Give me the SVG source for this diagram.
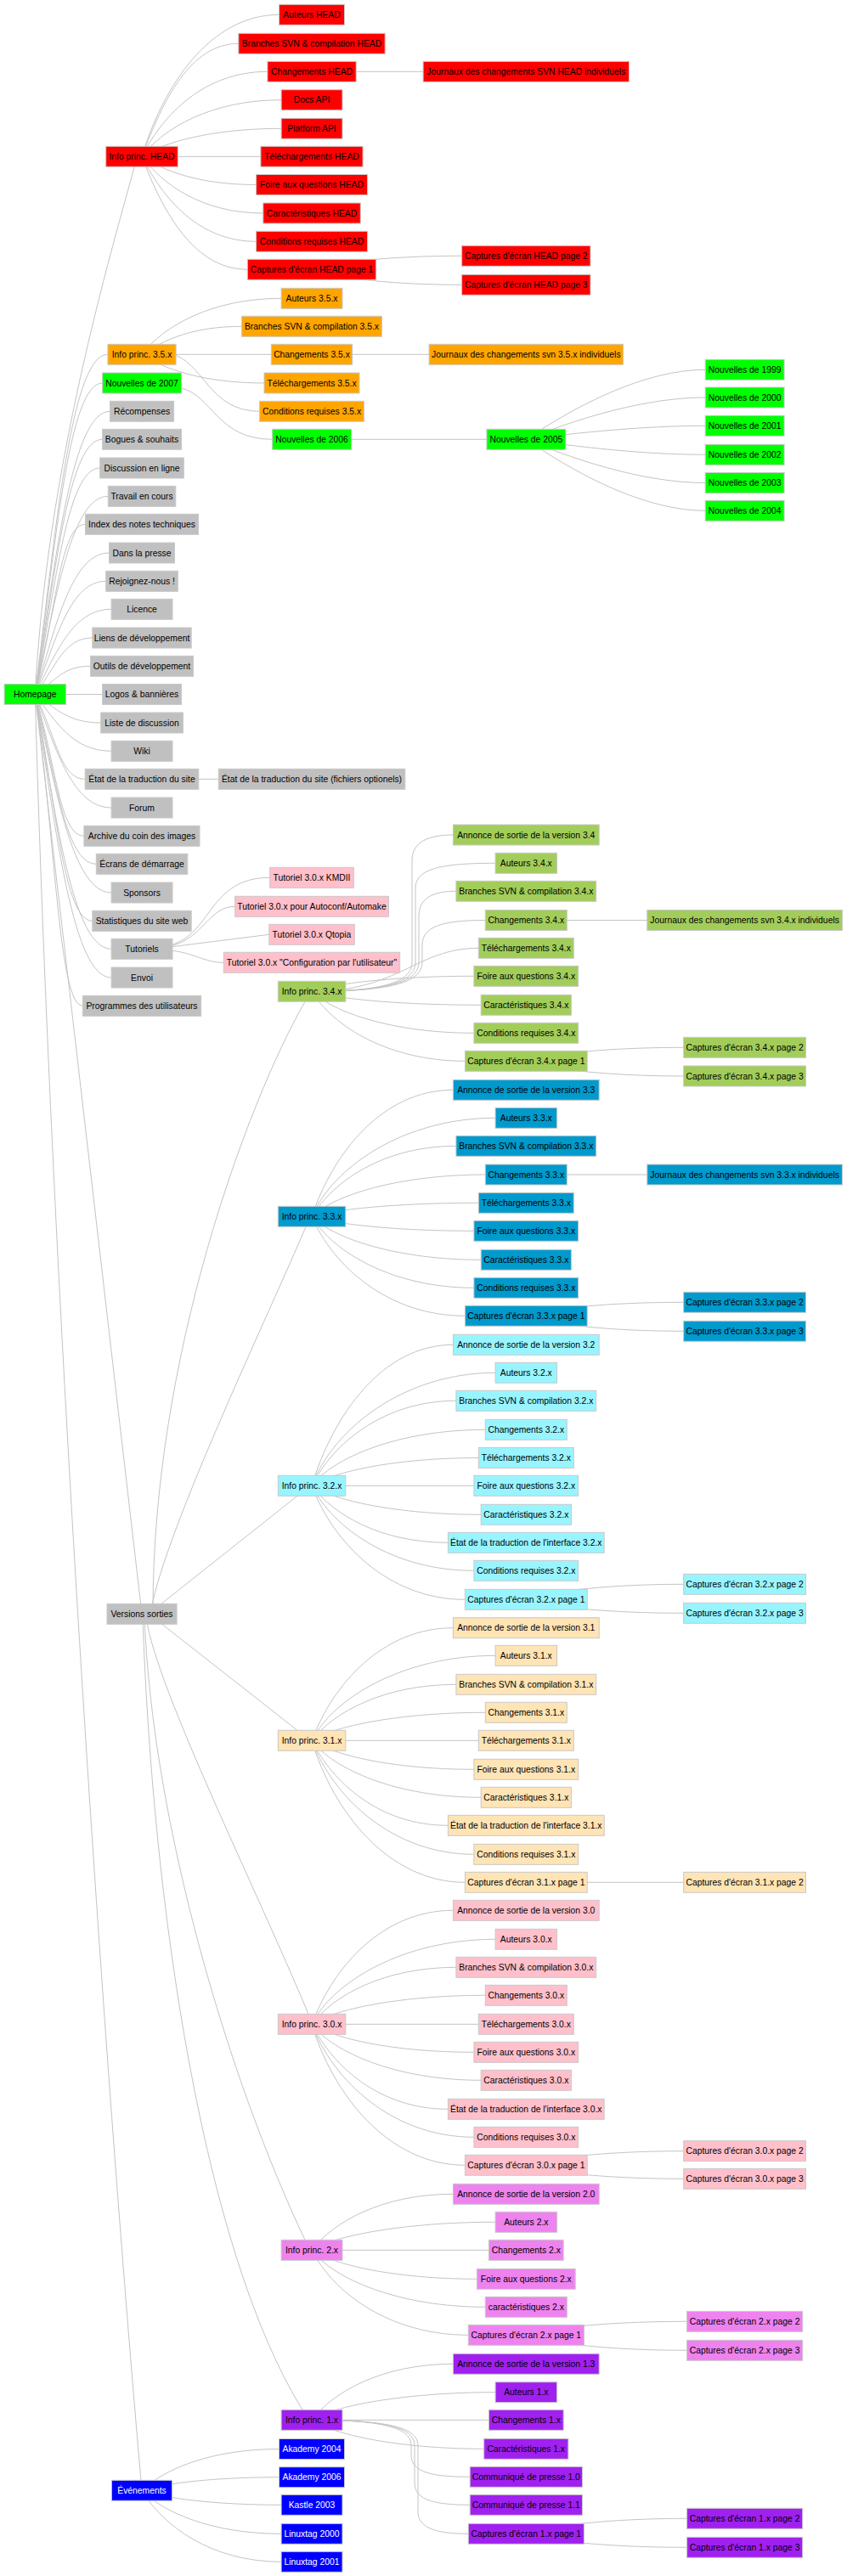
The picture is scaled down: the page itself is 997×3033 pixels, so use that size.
<svg xmlns="http://www.w3.org/2000/svg" width="997" height="3033" viewBox="0 0 997 3033">
<style>
.e path{fill:none;stroke:#c4c4c4;stroke-width:1}
rect.n{stroke:#c8c8c8;stroke-width:1;height:24px}
text{font-family:"Liberation Sans",Arial,sans-serif;font-size:10.35px;text-anchor:middle;fill:#000}
.r rect{fill:#ff0000}.o rect{fill:#ffa500}.g rect{fill:#00ff00}.s rect{fill:#c0c0c0}.p rect{fill:#ffc0cb}
.v34 rect{fill:#a2cd5a}.v33 rect{fill:#009acd}.v32 rect{fill:#98f5ff}.v31 rect{fill:#ffe4b5}.v30 rect{fill:#ffc0cb}
.v2 rect{fill:#ee82ee}.v1 rect{fill:#a020f0}.b rect{fill:#0000ff}.b text{fill:#fff}
</style>
<rect width="997" height="3033" fill="#fff"/>
<g id="connectors" class="e">
<path d="M41.3,817.5C66.3,617.4 84.1,417.3 126.9,417.3"/>
<path d="M41.3,817.5C66.3,634.3 81,451 120.6,451"/>
<path d="M41.3,817.5C66.3,650.9 85.4,484.3 129.5,484.3"/>
<path d="M41.3,817.5C66.3,667.4 81,517.3 120.6,517.3"/>
<path d="M41.3,817.5C66.3,684.3 79.5,551 117.7,551"/>
<path d="M41.3,817.5C66.3,700.9 84.3,584.3 127.3,584.3"/>
<path d="M41.3,817.5C66.3,717.4 70.9,617.3 100.5,617.3"/>
<path d="M41.3,817.5C66.3,734.3 84.9,651 128.5,651"/>
<path d="M41.3,817.5C66.3,750.9 83,684.3 124.7,684.3"/>
<path d="M41.3,817.5C66.3,767.4 86.2,717.3 131.1,717.3"/>
<path d="M41.3,817.5C66.3,784.3 75.1,751 108.8,751"/>
<path d="M41.3,817.5C66.3,800.9 74,784.3 106.6,784.3"/>
<path d="M41.3,817.5L120.6,817.5"/>
<path d="M41.3,817.5C66.3,834.3 80,851 118.7,851"/>
<path d="M41.3,817.5C66.3,850.9 86.2,884.3 131.1,884.3"/>
<path d="M41.3,817.5C66.3,867.4 70.8,917.3 100.2,917.3"/>
<path d="M41.3,817.5C66.3,884.3 86.2,951 131.1,951"/>
<path d="M41.3,817.5C66.3,900.9 70.1,984.3 98.9,984.3"/>
<path d="M41.3,817.5C66.3,917.4 77.3,1017.3 113.3,1017.3"/>
<path d="M41.3,817.5C66.3,934.3 86.2,1051 131.1,1051"/>
<path d="M41.3,817.5C66.3,950.9 75.1,1084.3 108.8,1084.3"/>
<path d="M41.3,817.5C66.3,967.4 86.2,1117.3 131.1,1117.3"/>
<path d="M41.3,817.5C66.3,984.3 86.2,1151 131.1,1151"/>
<path d="M41.3,817.5C66.3,1000.9 69.4,1184.3 97.4,1184.3"/>
<path d="M41.3,817.5C55,550 130,300 160,190"/>
<path d="M41.3,817.5L167,1900.3"/>
<path d="M41.3,817.5C60,1500 120,2400 167,2932.3"/>
<path d="M167,184.3C192,100.8 247.8,17.3 328.5,17.3"/>
<path d="M167,184.3C192,117.8 223.9,51.3 280.8,51.3"/>
<path d="M167,184.3C192,134.3 241,84.3 314.9,84.3"/>
<path d="M167,184.3C192,151 249.1,117.7 331.1,117.7"/>
<path d="M167,184.3C192,167.8 249.1,151.3 331.1,151.3"/>
<path d="M167,184.3L306.9,184.3"/>
<path d="M167,184.3C192,200.9 234.3,217.5 301.5,217.5"/>
<path d="M167,184.3C192,217.7 238.4,251 309.8,251"/>
<path d="M167,184.3C192,234.3 234.3,284.3 301.5,284.3"/>
<path d="M167,184.3C192,250.8 229.2,317.3 291.3,317.3"/>
<path d="M367,84.3L498.1,84.3"/>
<path d="M367,317.3C392,309.3 455.3,301.3 543.6,301.3"/>
<path d="M367,317.3C392,326.3 455.3,335.3 543.6,335.3"/>
<path d="M167,417.3C192,384.3 249.1,351.3 331.1,351.3"/>
<path d="M167,417.3C192,400.8 225.8,384.3 284.6,384.3"/>
<path d="M167,417.3L319.3,417.3"/>
<path d="M167,417.3C192,434.2 239,451 311,451"/>
<path d="M200,416C240,425 245,484.3 305.6,484.3"/>
<path d="M367,417.3L505.1,417.3"/>
<path d="M213,457C250,465 255,517.3 320.6,517.3"/>
<path d="M367,517.3L572.9,517.3"/>
<path d="M619.3,517.3C680,476.3 760,435.3 830.2,435.3"/>
<path d="M619.3,517.3C680,492.7 760,468 830.2,468"/>
<path d="M619.3,517.3C680,509.3 760,501.3 830.2,501.3"/>
<path d="M619.3,517.3C680,526.3 760,535.3 830.2,535.3"/>
<path d="M619.3,517.3C680,542.9 760,568.5 830.2,568.5"/>
<path d="M619.3,517.3C680,559.3 760,601.3 830.2,601.3"/>
<path d="M167,917.3L257.3,917.3"/>
<path d="M200,1113C250,1100 245,1033.3 317.7,1033.3"/>
<path d="M200,1114C240,1105 245,1067.3 276.7,1067.3"/>
<path d="M200,1115L316.8,1100.3"/>
<path d="M200,1119C230,1122 240,1133.3 263.3,1133.3"/>
<path d="M180,1895C180,1600 290,1300 359,1179.3"/>
<path d="M178,1895C195,1800 320,1540 360,1444.3"/>
<path d="M184,1893L350,1761.3"/>
<path d="M184,1907L350,2037.3"/>
<path d="M172,1905C185,1990 300,2220 363,2371.3"/>
<path d="M170,1905C180,2150 270,2450 359,2637.3"/>
<path d="M168,1905C180,2250 240,2650 356,2837.3"/>
<path d="M367,1167.3C465,1167.3 485,1152 485,1132L485,1013C485,991 505,983 533.4,983"/>
<path d="M367,1167.3C469,1167.3 489,1152 489,1132L489,1046C489,1024 515,1016.3 583.1,1016.3"/>
<path d="M367,1167.3C473,1167.3 493,1152 493,1132L493,1079C493,1057 510,1049.3 536.9,1049.3"/>
<path d="M367,1167.3C477,1167.3 497,1152 497,1132L497,1113C497,1091 520,1083.5 571.3,1083.5"/>
<path d="M367,1167.3C470,1167.3 490,1116.3 563.3,1116.3"/>
<path d="M367,1167.3C392,1158.3 462.5,1149.3 557.9,1149.3"/>
<path d="M367,1167.3C392,1175.3 466.6,1183.3 566.2,1183.3"/>
<path d="M367,1167.3C392,1191.8 462.5,1216.3 557.9,1216.3"/>
<path d="M367,1167.3C392,1208.3 457.2,1249.3 547.4,1249.3"/>
<path d="M619.3,1083.5L761.8,1083.5"/>
<path d="M619.3,1249.3C644.3,1241.3 712,1233.3 804.7,1233.3"/>
<path d="M619.3,1249.3C644.3,1258.2 712,1267 804.7,1267"/>
<path d="M367,1432.3C392,1357.8 450.2,1283.3 533.4,1283.3"/>
<path d="M367,1432.3C392,1374.3 475.1,1316.3 583.1,1316.3"/>
<path d="M367,1432.3C392,1390.8 452,1349.3 536.9,1349.3"/>
<path d="M367,1432.3C392,1407.7 469.2,1383 571.3,1383"/>
<path d="M367,1432.3C392,1424.3 465.2,1416.3 563.3,1416.3"/>
<path d="M367,1432.3C392,1440.8 462.5,1449.3 557.9,1449.3"/>
<path d="M367,1432.3C392,1457.8 466.6,1483.3 566.2,1483.3"/>
<path d="M367,1432.3C392,1474.3 462.5,1516.3 557.9,1516.3"/>
<path d="M367,1432.3C392,1490.8 457.2,1549.3 547.4,1549.3"/>
<path d="M619.3,1383L761.8,1383"/>
<path d="M619.3,1549.3C644.3,1541.3 712,1533.3 804.7,1533.3"/>
<path d="M619.3,1549.3C644.3,1558.3 712,1567.3 804.7,1567.3"/>
<path d="M367,1749.3C392,1666.3 450.2,1583.3 533.4,1583.3"/>
<path d="M367,1749.3C392,1682.8 475.1,1616.3 583.1,1616.3"/>
<path d="M367,1749.3C392,1699.3 452,1649.3 536.9,1649.3"/>
<path d="M367,1749.3C392,1716.3 469.2,1683.3 571.3,1683.3"/>
<path d="M367,1749.3C392,1732.9 465.2,1716.5 563.3,1716.5"/>
<path d="M367,1749.3L557.9,1749.3"/>
<path d="M367,1749.3C392,1766.3 466.6,1783.3 566.2,1783.3"/>
<path d="M367,1749.3C392,1782.8 447.2,1816.3 527.4,1816.3"/>
<path d="M367,1749.3C392,1799.3 462.5,1849.3 557.9,1849.3"/>
<path d="M367,1749.3C392,1816.3 457.2,1883.3 547.4,1883.3"/>
<path d="M619.3,1883.3C644.3,1874.3 712,1865.3 804.7,1865.3"/>
<path d="M619.3,1883.3C644.3,1891.3 712,1899.3 804.7,1899.3"/>
<path d="M367,2049.3C392,1983 450.2,1916.7 533.4,1916.7"/>
<path d="M367,2049.3C392,1999.3 475.1,1949.3 583.1,1949.3"/>
<path d="M367,2049.3C392,2016.3 452,1983.3 536.9,1983.3"/>
<path d="M367,2049.3C392,2032.8 469.2,2016.3 571.3,2016.3"/>
<path d="M367,2049.3L563.3,2049.3"/>
<path d="M367,2049.3C392,2066.3 462.5,2083.3 557.9,2083.3"/>
<path d="M367,2049.3C392,2082.8 466.6,2116.3 566.2,2116.3"/>
<path d="M367,2049.3C392,2099.3 447.2,2149.3 527.4,2149.3"/>
<path d="M367,2049.3C392,2116.3 462.5,2183.3 557.9,2183.3"/>
<path d="M367,2049.3C392,2132.8 457.2,2216.3 547.4,2216.3"/>
<path d="M619.3,2216.3L804.7,2216.3"/>
<path d="M367,2383.3C392,2316.3 450.2,2249.3 533.4,2249.3"/>
<path d="M367,2383.3C392,2333.3 475.1,2283.3 583.1,2283.3"/>
<path d="M367,2383.3C392,2349.8 452,2316.3 536.9,2316.3"/>
<path d="M367,2383.3C392,2366.3 469.2,2349.3 571.3,2349.3"/>
<path d="M367,2383.3L563.3,2383.3"/>
<path d="M367,2383.3C392,2399.8 462.5,2416.3 557.9,2416.3"/>
<path d="M367,2383.3C392,2416.3 466.6,2449.3 566.2,2449.3"/>
<path d="M367,2383.3C392,2433.3 447.2,2483.3 527.4,2483.3"/>
<path d="M367,2383.3C392,2449.8 462.5,2516.3 557.9,2516.3"/>
<path d="M367,2383.3C392,2466.3 457.2,2549.3 547.4,2549.3"/>
<path d="M619.3,2549.3C644.3,2541 712,2532.7 804.7,2532.7"/>
<path d="M619.3,2549.3C644.3,2557.3 712,2565.3 804.7,2565.3"/>
<path d="M367,2649.3C392,2616.3 450.2,2583.3 533.4,2583.3"/>
<path d="M367,2649.3C392,2632.8 475.1,2616.3 583.1,2616.3"/>
<path d="M367,2649.3L575.4,2649.3"/>
<path d="M367,2649.3C392,2666.3 464.2,2683.3 561.4,2683.3"/>
<path d="M367,2649.3C392,2682.8 469.2,2716.3 571.3,2716.3"/>
<path d="M367,2649.3C392,2699.3 459.2,2749.3 551.3,2749.3"/>
<path d="M619.3,2749.3C644.3,2741.3 714,2733.3 808.6,2733.3"/>
<path d="M619.3,2749.3C644.3,2758.3 714,2767.3 808.6,2767.3"/>
<path d="M367,2849.3C392,2816.3 450.2,2783.3 533.4,2783.3"/>
<path d="M367,2849.3C392,2833 475.1,2816.7 583.1,2816.7"/>
<path d="M367,2849.3L575.4,2849.3"/>
<path d="M367,2849.3C392,2866.3 468.4,2883.3 569.7,2883.3"/>
<path d="M367,2849.3C464,2849.3 484,2862 484,2880L484,2890C484,2908 500,2916.3 553.2,2916.3"/>
<path d="M367,2849.3C468,2849.3 488,2862 488,2880L488,2923C488,2941 505,2949.3 553.2,2949.3"/>
<path d="M367,2849.3C472,2849.3 492,2862 492,2880L492,2957C492,2975 510,2983.3 551.3,2983.3"/>
<path d="M619.3,2983.3C644.3,2974.3 714,2965.3 808.6,2965.3"/>
<path d="M619.3,2983.3C644.3,2991.3 714,2999.3 808.6,2999.3"/>
<path d="M167,2932.3C192,2907.9 247.8,2883.5 328.5,2883.5"/>
<path d="M167,2932.3C192,2924.5 247.8,2916.7 328.5,2916.7"/>
<path d="M167,2932.3C192,2940.8 249.1,2949.3 331.1,2949.3"/>
<path d="M167,2932.3C192,2957.8 249.1,2983.3 331.1,2983.3"/>
<path d="M167,2932.3C192,2974.3 249.1,3016.3 331.1,3016.3"/>
</g>
<g id="nodes">
<g id="homepage" class="g"><rect class="n" x="5.1" y="805.5" width="72.5" height="24"/><text x="41.3" y="821.1">Homepage</text></g>
<g id="info-head" class="r"><rect class="n" x="124.7" y="172.3" width="84.6" height="24"/><text x="167" y="187.9">Info princ. HEAD</text></g>
<g id="info-35" class="o"><rect class="n" x="126.9" y="405.3" width="80.2" height="24"/><text x="167" y="420.9">Info princ. 3.5.x</text></g>
<g id="news-2007" class="g"><rect class="n" x="120.6" y="439" width="92.9" height="24"/><text x="167" y="454.6">Nouvelles de 2007</text></g>
<g id="awards" class="s"><rect class="n" x="129.5" y="472.3" width="75.1" height="24"/><text x="167" y="487.9">Récompenses</text></g>
<g id="bugs" class="s"><rect class="n" x="120.6" y="505.3" width="92.9" height="24"/><text x="167" y="520.9">Bogues &amp; souhaits</text></g>
<g id="chat" class="s"><rect class="n" x="117.7" y="539" width="98.6" height="24"/><text x="167" y="554.6">Discussion en ligne</text></g>
<g id="wip" class="s"><rect class="n" x="127.3" y="572.3" width="79.5" height="24"/><text x="167" y="587.9">Travail en cours</text></g>
<g id="technotes" class="s"><rect class="n" x="100.5" y="605.3" width="133" height="24"/><text x="167" y="620.9">Index des notes techniques</text></g>
<g id="press" class="s"><rect class="n" x="128.5" y="639" width="77" height="24"/><text x="167" y="654.6">Dans la presse</text></g>
<g id="join" class="s"><rect class="n" x="124.7" y="672.3" width="84.6" height="24"/><text x="167" y="687.9">Rejoignez-nous !</text></g>
<g id="licence" class="s"><rect class="n" x="131.1" y="705.3" width="71.9" height="24"/><text x="167" y="720.9">Licence</text></g>
<g id="devlinks" class="s"><rect class="n" x="108.8" y="739" width="116.4" height="24"/><text x="167" y="754.6">Liens de développement</text></g>
<g id="devtools" class="s"><rect class="n" x="106.6" y="772.3" width="120.9" height="24"/><text x="167" y="787.9">Outils de développement</text></g>
<g id="logos" class="s"><rect class="n" x="120.6" y="805.5" width="92.9" height="24"/><text x="167" y="821.1">Logos &amp; bannières</text></g>
<g id="mailinglist" class="s"><rect class="n" x="118.7" y="839" width="96.7" height="24"/><text x="167" y="854.6">Liste de discussion</text></g>
<g id="wiki" class="s"><rect class="n" x="131.1" y="872.3" width="71.9" height="24"/><text x="167" y="887.9">Wiki</text></g>
<g id="translation" class="s"><rect class="n" x="100.2" y="905.3" width="133.6" height="24"/><text x="167" y="920.9">État de la traduction du site</text></g>
<g id="forum" class="s"><rect class="n" x="131.1" y="939" width="71.9" height="24"/><text x="167" y="954.6">Forum</text></g>
<g id="artwork" class="s"><rect class="n" x="98.9" y="972.3" width="136.1" height="24"/><text x="167" y="987.9">Archive du coin des images</text></g>
<g id="splash" class="s"><rect class="n" x="113.3" y="1005.3" width="107.5" height="24"/><text x="167" y="1020.9">Écrans de démarrage</text></g>
<g id="sponsors" class="s"><rect class="n" x="131.1" y="1039" width="71.9" height="24"/><text x="167" y="1054.6">Sponsors</text></g>
<g id="stats" class="s"><rect class="n" x="108.8" y="1072.3" width="116.4" height="24"/><text x="167" y="1087.9">Statistiques du site web</text></g>
<g id="tutorials" class="s"><rect class="n" x="131.1" y="1105.3" width="71.9" height="24"/><text x="167" y="1120.9">Tutoriels</text></g>
<g id="upload" class="s"><rect class="n" x="131.1" y="1139" width="71.9" height="24"/><text x="167" y="1154.6">Envoi</text></g>
<g id="userapps" class="s"><rect class="n" x="97.4" y="1172.3" width="139.3" height="24"/><text x="167" y="1187.9">Programmes des utilisateurs</text></g>
<g id="releases" class="s"><rect class="n" x="126" y="1888.3" width="82.1" height="24"/><text x="167" y="1903.9">Versions sorties</text></g>
<g id="events" class="b"><rect class="n" x="131.4" y="2920.3" width="71.2" height="24"/><text x="167" y="2935.9">Événements</text></g>

<g id="head-authors" class="r"><rect class="n" x="328.5" y="5.3" width="77" height="24"/><text x="367" y="20.9">Auteurs HEAD</text></g>
<g id="head-svn" class="r"><rect class="n" x="280.8" y="39.3" width="172.4" height="24"/><text x="367" y="54.9">Branches SVN &amp; compilation HEAD</text></g>
<g id="head-changes" class="r"><rect class="n" x="314.9" y="72.3" width="104.3" height="24"/><text x="367" y="87.9">Changements HEAD</text></g>
<g id="head-docs" class="r"><rect class="n" x="331.1" y="105.7" width="71.9" height="24"/><text x="367" y="121.3">Docs API</text></g>
<g id="head-platform" class="r"><rect class="n" x="331.1" y="139.3" width="71.9" height="24"/><text x="367" y="154.9">Platform API</text></g>
<g id="head-dl" class="r"><rect class="n" x="306.9" y="172.3" width="120.2" height="24"/><text x="367" y="187.9">Téléchargements HEAD</text></g>
<g id="head-faq" class="r"><rect class="n" x="301.5" y="205.5" width="131" height="24"/><text x="367" y="221.1">Foire aux questions HEAD</text></g>
<g id="head-features" class="r"><rect class="n" x="309.8" y="239" width="114.5" height="24"/><text x="367" y="254.6">Caractéristiques HEAD</text></g>
<g id="head-req" class="r"><rect class="n" x="301.5" y="272.3" width="131" height="24"/><text x="367" y="287.9">Conditions requises HEAD</text></g>
<g id="head-shots1" class="r"><rect class="n" x="291.3" y="305.3" width="151.4" height="24"/><text x="367" y="320.9">Captures d'écran HEAD page 1</text></g>
<g id="head-log" class="r"><rect class="n" x="498.1" y="72.3" width="242.4" height="24"/><text x="619.3" y="87.9">Journaux des changements SVN HEAD individuels</text></g>
<g id="head-shots2" class="r"><rect class="n" x="543.6" y="289.3" width="151.4" height="24"/><text x="619.3" y="304.9">Captures d'écran HEAD page 2</text></g>
<g id="head-shots3" class="r"><rect class="n" x="543.6" y="323.3" width="151.4" height="24"/><text x="619.3" y="338.9">Captures d'écran HEAD page 3</text></g>

<g id="v35-authors" class="o"><rect class="n" x="331.1" y="339.3" width="71.9" height="24"/><text x="367" y="354.9">Auteurs 3.5.x</text></g>
<g id="v35-svn" class="o"><rect class="n" x="284.6" y="372.3" width="164.8" height="24"/><text x="367" y="387.9">Branches SVN &amp; compilation 3.5.x</text></g>
<g id="v35-changes" class="o"><rect class="n" x="319.3" y="405.3" width="95.4" height="24"/><text x="367" y="420.9">Changements 3.5.x</text></g>
<g id="v35-dl" class="o"><rect class="n" x="311" y="439" width="112" height="24"/><text x="367" y="454.6">Téléchargements 3.5.x</text></g>
<g id="v35-req" class="o"><rect class="n" x="305.6" y="472.3" width="122.8" height="24"/><text x="367" y="487.9">Conditions requises 3.5.x</text></g>
<g id="v35-log" class="o"><rect class="n" x="505.1" y="405.3" width="228.4" height="24"/><text x="619.3" y="420.9">Journaux des changements svn 3.5.x individuels</text></g>

<g id="news-2006" class="g"><rect class="n" x="320.6" y="505.3" width="92.9" height="24"/><text x="367" y="520.9">Nouvelles de 2006</text></g>
<g id="news-2005" class="g"><rect class="n" x="572.9" y="505.3" width="92.9" height="24"/><text x="619.3" y="520.9">Nouvelles de 2005</text></g>
<g id="news-1999" class="g"><rect class="n" x="830.2" y="423.3" width="92.9" height="24"/><text x="876.6" y="438.9">Nouvelles de 1999</text></g>
<g id="news-2000" class="g"><rect class="n" x="830.2" y="456" width="92.9" height="24"/><text x="876.6" y="471.6">Nouvelles de 2000</text></g>
<g id="news-2001" class="g"><rect class="n" x="830.2" y="489.3" width="92.9" height="24"/><text x="876.6" y="504.9">Nouvelles de 2001</text></g>
<g id="news-2002" class="g"><rect class="n" x="830.2" y="523.3" width="92.9" height="24"/><text x="876.6" y="538.9">Nouvelles de 2002</text></g>
<g id="news-2003" class="g"><rect class="n" x="830.2" y="556.5" width="92.9" height="24"/><text x="876.6" y="572.1">Nouvelles de 2003</text></g>
<g id="news-2004" class="g"><rect class="n" x="830.2" y="589.3" width="92.9" height="24"/><text x="876.6" y="604.9">Nouvelles de 2004</text></g>

<g id="translation-opt" class="s"><rect class="n" x="257.3" y="905.3" width="219.5" height="24"/><text x="367" y="920.9">État de la traduction du site (fichiers optionels)</text></g>
<g id="tut-kmdi" class="p"><rect class="n" x="317.7" y="1021.3" width="98.6" height="24"/><text x="367" y="1036.9">Tutoriel 3.0.x KMDII</text></g>
<g id="tut-autoconf" class="p"><rect class="n" x="276.7" y="1055.3" width="180.7" height="24"/><text x="367" y="1070.9">Tutoriel 3.0.x pour Autoconf/Automake</text></g>
<g id="tut-qtopia" class="p"><rect class="n" x="316.8" y="1088.3" width="100.5" height="24"/><text x="367" y="1103.9">Tutoriel 3.0.x Qtopia</text></g>
<g id="tut-config" class="p"><rect class="n" x="263.3" y="1121.3" width="207.4" height="24"/><text x="367" y="1136.9">Tutoriel 3.0.x "Configuration par l'utilisateur"</text></g>

<g id="info-34" class="v34"><rect class="n" x="327.3" y="1155.3" width="79.5" height="24"/><text x="367" y="1170.9">Info princ. 3.4.x</text></g>
<g id="v34-ann" class="v34"><rect class="n" x="533.4" y="971" width="171.8" height="24"/><text x="619.3" y="986.6">Annonce de sortie de la version 3.4</text></g>
<g id="v34-authors" class="v34"><rect class="n" x="583.1" y="1004.3" width="72.5" height="24"/><text x="619.3" y="1019.9">Auteurs 3.4.x</text></g>
<g id="v34-svn" class="v34"><rect class="n" x="536.9" y="1037.3" width="164.8" height="24"/><text x="619.3" y="1052.9">Branches SVN &amp; compilation 3.4.x</text></g>
<g id="v34-changes" class="v34"><rect class="n" x="571.3" y="1071.5" width="96" height="24"/><text x="619.3" y="1087.1">Changements 3.4.x</text></g>
<g id="v34-dl" class="v34"><rect class="n" x="563.3" y="1104.3" width="112" height="24"/><text x="619.3" y="1119.9">Téléchargements 3.4.x</text></g>
<g id="v34-faq" class="v34"><rect class="n" x="557.9" y="1137.3" width="122.8" height="24"/><text x="619.3" y="1152.9">Foire aux questions 3.4.x</text></g>
<g id="v34-features" class="v34"><rect class="n" x="566.2" y="1171.3" width="106.2" height="24"/><text x="619.3" y="1186.9">Caractéristiques 3.4.x</text></g>
<g id="v34-req" class="v34"><rect class="n" x="557.9" y="1204.3" width="122.8" height="24"/><text x="619.3" y="1219.9">Conditions requises 3.4.x</text></g>
<g id="v34-shots1" class="v34"><rect class="n" x="547.4" y="1237.3" width="143.8" height="24"/><text x="619.3" y="1252.9">Captures d'écran 3.4.x page 1</text></g>
<g id="v34-log" class="v34"><rect class="n" x="761.8" y="1071.5" width="229.6" height="24"/><text x="876.6" y="1087.1">Journaux des changements svn 3.4.x individuels</text></g>
<g id="v34-shots2" class="v34"><rect class="n" x="804.7" y="1221.3" width="143.8" height="24"/><text x="876.6" y="1236.9">Captures d'écran 3.4.x page 2</text></g>
<g id="v34-shots3" class="v34"><rect class="n" x="804.7" y="1255" width="143.8" height="24"/><text x="876.6" y="1270.6">Captures d'écran 3.4.x page 3</text></g>

<g id="info-33" class="v33"><rect class="n" x="327.3" y="1420.3" width="79.5" height="24"/><text x="367" y="1435.9">Info princ. 3.3.x</text></g>
<g id="v33-ann" class="v33"><rect class="n" x="533.4" y="1271.3" width="171.8" height="24"/><text x="619.3" y="1286.9">Annonce de sortie de la version 3.3</text></g>
<g id="v33-authors" class="v33"><rect class="n" x="583.1" y="1304.3" width="72.5" height="24"/><text x="619.3" y="1319.9">Auteurs 3.3.x</text></g>
<g id="v33-svn" class="v33"><rect class="n" x="536.9" y="1337.3" width="164.8" height="24"/><text x="619.3" y="1352.9">Branches SVN &amp; compilation 3.3.x</text></g>
<g id="v33-changes" class="v33"><rect class="n" x="571.3" y="1371" width="96" height="24"/><text x="619.3" y="1386.6">Changements 3.3.x</text></g>
<g id="v33-dl" class="v33"><rect class="n" x="563.3" y="1404.3" width="112" height="24"/><text x="619.3" y="1419.9">Téléchargements 3.3.x</text></g>
<g id="v33-faq" class="v33"><rect class="n" x="557.9" y="1437.3" width="122.8" height="24"/><text x="619.3" y="1452.9">Foire aux questions 3.3.x</text></g>
<g id="v33-features" class="v33"><rect class="n" x="566.2" y="1471.3" width="106.2" height="24"/><text x="619.3" y="1486.9">Caractéristiques 3.3.x</text></g>
<g id="v33-req" class="v33"><rect class="n" x="557.9" y="1504.3" width="122.8" height="24"/><text x="619.3" y="1519.9">Conditions requises 3.3.x</text></g>
<g id="v33-shots1" class="v33"><rect class="n" x="547.4" y="1537.3" width="143.8" height="24"/><text x="619.3" y="1552.9">Captures d'écran 3.3.x page 1</text></g>
<g id="v33-log" class="v33"><rect class="n" x="761.8" y="1371" width="229.6" height="24"/><text x="876.6" y="1386.6">Journaux des changements svn 3.3.x individuels</text></g>
<g id="v33-shots2" class="v33"><rect class="n" x="804.7" y="1521.3" width="143.8" height="24"/><text x="876.6" y="1536.9">Captures d'écran 3.3.x page 2</text></g>
<g id="v33-shots3" class="v33"><rect class="n" x="804.7" y="1555.3" width="143.8" height="24"/><text x="876.6" y="1570.9">Captures d'écran 3.3.x page 3</text></g>

<g id="info-32" class="v32"><rect class="n" x="327.3" y="1737.3" width="79.5" height="24"/><text x="367" y="1752.9">Info princ. 3.2.x</text></g>
<g id="v32-ann" class="v32"><rect class="n" x="533.4" y="1571.3" width="171.8" height="24"/><text x="619.3" y="1586.9">Annonce de sortie de la version 3.2</text></g>
<g id="v32-authors" class="v32"><rect class="n" x="583.1" y="1604.3" width="72.5" height="24"/><text x="619.3" y="1619.9">Auteurs 3.2.x</text></g>
<g id="v32-svn" class="v32"><rect class="n" x="536.9" y="1637.3" width="164.8" height="24"/><text x="619.3" y="1652.9">Branches SVN &amp; compilation 3.2.x</text></g>
<g id="v32-changes" class="v32"><rect class="n" x="571.3" y="1671.3" width="96" height="24"/><text x="619.3" y="1686.9">Changements 3.2.x</text></g>
<g id="v32-dl" class="v32"><rect class="n" x="563.3" y="1704.5" width="112" height="24"/><text x="619.3" y="1720.1">Téléchargements 3.2.x</text></g>
<g id="v32-faq" class="v32"><rect class="n" x="557.9" y="1737.3" width="122.8" height="24"/><text x="619.3" y="1752.9">Foire aux questions 3.2.x</text></g>
<g id="v32-features" class="v32"><rect class="n" x="566.2" y="1771.3" width="106.2" height="24"/><text x="619.3" y="1786.9">Caractéristiques 3.2.x</text></g>
<g id="v32-i18n" class="v32"><rect class="n" x="527.4" y="1804.3" width="183.8" height="24"/><text x="619.3" y="1819.9">État de la traduction de l'interface 3.2.x</text></g>
<g id="v32-req" class="v32"><rect class="n" x="557.9" y="1837.3" width="122.8" height="24"/><text x="619.3" y="1852.9">Conditions requises 3.2.x</text></g>
<g id="v32-shots1" class="v32"><rect class="n" x="547.4" y="1871.3" width="143.8" height="24"/><text x="619.3" y="1886.9">Captures d'écran 3.2.x page 1</text></g>
<g id="v32-shots2" class="v32"><rect class="n" x="804.7" y="1853.3" width="143.8" height="24"/><text x="876.6" y="1868.9">Captures d'écran 3.2.x page 2</text></g>
<g id="v32-shots3" class="v32"><rect class="n" x="804.7" y="1887.3" width="143.8" height="24"/><text x="876.6" y="1902.9">Captures d'écran 3.2.x page 3</text></g>

<g id="info-31" class="v31"><rect class="n" x="327.3" y="2037.3" width="79.5" height="24"/><text x="367" y="2052.9">Info princ. 3.1.x</text></g>
<g id="v31-ann" class="v31"><rect class="n" x="533.4" y="1904.7" width="171.8" height="24"/><text x="619.3" y="1920.3">Annonce de sortie de la version 3.1</text></g>
<g id="v31-authors" class="v31"><rect class="n" x="583.1" y="1937.3" width="72.5" height="24"/><text x="619.3" y="1952.9">Auteurs 3.1.x</text></g>
<g id="v31-svn" class="v31"><rect class="n" x="536.9" y="1971.3" width="164.8" height="24"/><text x="619.3" y="1986.9">Branches SVN &amp; compilation 3.1.x</text></g>
<g id="v31-changes" class="v31"><rect class="n" x="571.3" y="2004.3" width="96" height="24"/><text x="619.3" y="2019.9">Changements 3.1.x</text></g>
<g id="v31-dl" class="v31"><rect class="n" x="563.3" y="2037.3" width="112" height="24"/><text x="619.3" y="2052.9">Téléchargements 3.1.x</text></g>
<g id="v31-faq" class="v31"><rect class="n" x="557.9" y="2071.3" width="122.8" height="24"/><text x="619.3" y="2086.9">Foire aux questions 3.1.x</text></g>
<g id="v31-features" class="v31"><rect class="n" x="566.2" y="2104.3" width="106.2" height="24"/><text x="619.3" y="2119.9">Caractéristiques 3.1.x</text></g>
<g id="v31-i18n" class="v31"><rect class="n" x="527.4" y="2137.3" width="183.8" height="24"/><text x="619.3" y="2152.9">État de la traduction de l'interface 3.1.x</text></g>
<g id="v31-req" class="v31"><rect class="n" x="557.9" y="2171.3" width="122.8" height="24"/><text x="619.3" y="2186.9">Conditions requises 3.1.x</text></g>
<g id="v31-shots1" class="v31"><rect class="n" x="547.4" y="2204.3" width="143.8" height="24"/><text x="619.3" y="2219.9">Captures d'écran 3.1.x page 1</text></g>
<g id="v31-shots2" class="v31"><rect class="n" x="804.7" y="2204.3" width="143.8" height="24"/><text x="876.6" y="2219.9">Captures d'écran 3.1.x page 2</text></g>

<g id="info-30" class="v30"><rect class="n" x="327.3" y="2371.3" width="79.5" height="24"/><text x="367" y="2386.9">Info princ. 3.0.x</text></g>
<g id="v30-ann" class="v30"><rect class="n" x="533.4" y="2237.3" width="171.8" height="24"/><text x="619.3" y="2252.9">Annonce de sortie de la version 3.0</text></g>
<g id="v30-authors" class="v30"><rect class="n" x="583.1" y="2271.3" width="72.5" height="24"/><text x="619.3" y="2286.9">Auteurs 3.0.x</text></g>
<g id="v30-svn" class="v30"><rect class="n" x="536.9" y="2304.3" width="164.8" height="24"/><text x="619.3" y="2319.9">Branches SVN &amp; compilation 3.0.x</text></g>
<g id="v30-changes" class="v30"><rect class="n" x="571.3" y="2337.3" width="96" height="24"/><text x="619.3" y="2352.9">Changements 3.0.x</text></g>
<g id="v30-dl" class="v30"><rect class="n" x="563.3" y="2371.3" width="112" height="24"/><text x="619.3" y="2386.9">Téléchargements 3.0.x</text></g>
<g id="v30-faq" class="v30"><rect class="n" x="557.9" y="2404.3" width="122.8" height="24"/><text x="619.3" y="2419.9">Foire aux questions 3.0.x</text></g>
<g id="v30-features" class="v30"><rect class="n" x="566.2" y="2437.3" width="106.2" height="24"/><text x="619.3" y="2452.9">Caractéristiques 3.0.x</text></g>
<g id="v30-i18n" class="v30"><rect class="n" x="527.4" y="2471.3" width="183.8" height="24"/><text x="619.3" y="2486.9">État de la traduction de l'interface 3.0.x</text></g>
<g id="v30-req" class="v30"><rect class="n" x="557.9" y="2504.3" width="122.8" height="24"/><text x="619.3" y="2519.9">Conditions requises 3.0.x</text></g>
<g id="v30-shots1" class="v30"><rect class="n" x="547.4" y="2537.3" width="143.8" height="24"/><text x="619.3" y="2552.9">Captures d'écran 3.0.x page 1</text></g>
<g id="v30-shots2" class="v30"><rect class="n" x="804.7" y="2520.7" width="143.8" height="24"/><text x="876.6" y="2536.3">Captures d'écran 3.0.x page 2</text></g>
<g id="v30-shots3" class="v30"><rect class="n" x="804.7" y="2553.3" width="143.8" height="24"/><text x="876.6" y="2568.9">Captures d'écran 3.0.x page 3</text></g>

<g id="info-2" class="v2"><rect class="n" x="331.1" y="2637.3" width="71.9" height="24"/><text x="367" y="2652.9">Info princ. 2.x</text></g>
<g id="v2-ann" class="v2"><rect class="n" x="533.4" y="2571.3" width="171.8" height="24"/><text x="619.3" y="2586.9">Annonce de sortie de la version 2.0</text></g>
<g id="v2-authors" class="v2"><rect class="n" x="583.1" y="2604.3" width="72.5" height="24"/><text x="619.3" y="2619.9">Auteurs 2.x</text></g>
<g id="v2-changes" class="v2"><rect class="n" x="575.4" y="2637.3" width="87.8" height="24"/><text x="619.3" y="2652.9">Changements 2.x</text></g>
<g id="v2-faq" class="v2"><rect class="n" x="561.4" y="2671.3" width="115.8" height="24"/><text x="619.3" y="2686.9">Foire aux questions 2.x</text></g>
<g id="v2-features" class="v2"><rect class="n" x="571.3" y="2704.3" width="96" height="24"/><text x="619.3" y="2719.9">caractéristiques 2.x</text></g>
<g id="v2-shots1" class="v2"><rect class="n" x="551.3" y="2737.3" width="136.1" height="24"/><text x="619.3" y="2752.9">Captures d'écran 2.x page 1</text></g>
<g id="v2-shots2" class="v2"><rect class="n" x="808.6" y="2721.3" width="136.1" height="24"/><text x="876.6" y="2736.9">Captures d'écran 2.x page 2</text></g>
<g id="v2-shots3" class="v2"><rect class="n" x="808.6" y="2755.3" width="136.1" height="24"/><text x="876.6" y="2770.9">Captures d'écran 2.x page 3</text></g>

<g id="info-1" class="v1"><rect class="n" x="331.1" y="2837.3" width="71.9" height="24"/><text x="367" y="2852.9">Info princ. 1.x</text></g>
<g id="v1-ann" class="v1"><rect class="n" x="533.4" y="2771.3" width="171.8" height="24"/><text x="619.3" y="2786.9">Annonce de sortie de la version 1.3</text></g>
<g id="v1-authors" class="v1"><rect class="n" x="583.1" y="2804.7" width="72.5" height="24"/><text x="619.3" y="2820.3">Auteurs 1.x</text></g>
<g id="v1-changes" class="v1"><rect class="n" x="575.4" y="2837.3" width="87.8" height="24"/><text x="619.3" y="2852.9">Changements 1.x</text></g>
<g id="v1-features" class="v1"><rect class="n" x="569.7" y="2871.3" width="99.2" height="24"/><text x="619.3" y="2886.9">Caractéristiques 1.x</text></g>
<g id="v1-press10" class="v1"><rect class="n" x="553.2" y="2904.3" width="132.3" height="24"/><text x="619.3" y="2919.9">Communiqué de presse 1.0</text></g>
<g id="v1-press11" class="v1"><rect class="n" x="553.2" y="2937.3" width="132.3" height="24"/><text x="619.3" y="2952.9">Communiqué de presse 1.1</text></g>
<g id="v1-shots1" class="v1"><rect class="n" x="551.3" y="2971.3" width="136.1" height="24"/><text x="619.3" y="2986.9">Captures d'écran 1.x page 1</text></g>
<g id="v1-shots2" class="v1"><rect class="n" x="808.6" y="2953.3" width="136.1" height="24"/><text x="876.6" y="2968.9">Captures d'écran 1.x page 2</text></g>
<g id="v1-shots3" class="v1"><rect class="n" x="808.6" y="2987.3" width="136.1" height="24"/><text x="876.6" y="3002.9">Captures d'écran 1.x page 3</text></g>

<g id="akademy-2004" class="b"><rect class="n" x="328.5" y="2871.5" width="77" height="24"/><text x="367" y="2887.1">Akademy 2004</text></g>
<g id="akademy-2006" class="b"><rect class="n" x="328.5" y="2904.7" width="77" height="24"/><text x="367" y="2920.3">Akademy 2006</text></g>
<g id="kastle-2003" class="b"><rect class="n" x="331.1" y="2937.3" width="71.9" height="24"/><text x="367" y="2952.9">Kastle 2003</text></g>
<g id="linuxtag-2000" class="b"><rect class="n" x="331.1" y="2971.3" width="71.9" height="24"/><text x="367" y="2986.9">Linuxtag 2000</text></g>
<g id="linuxtag-2001" class="b"><rect class="n" x="331.1" y="3004.3" width="71.9" height="24"/><text x="367" y="3019.9">Linuxtag 2001</text></g>
</g>
</svg>
